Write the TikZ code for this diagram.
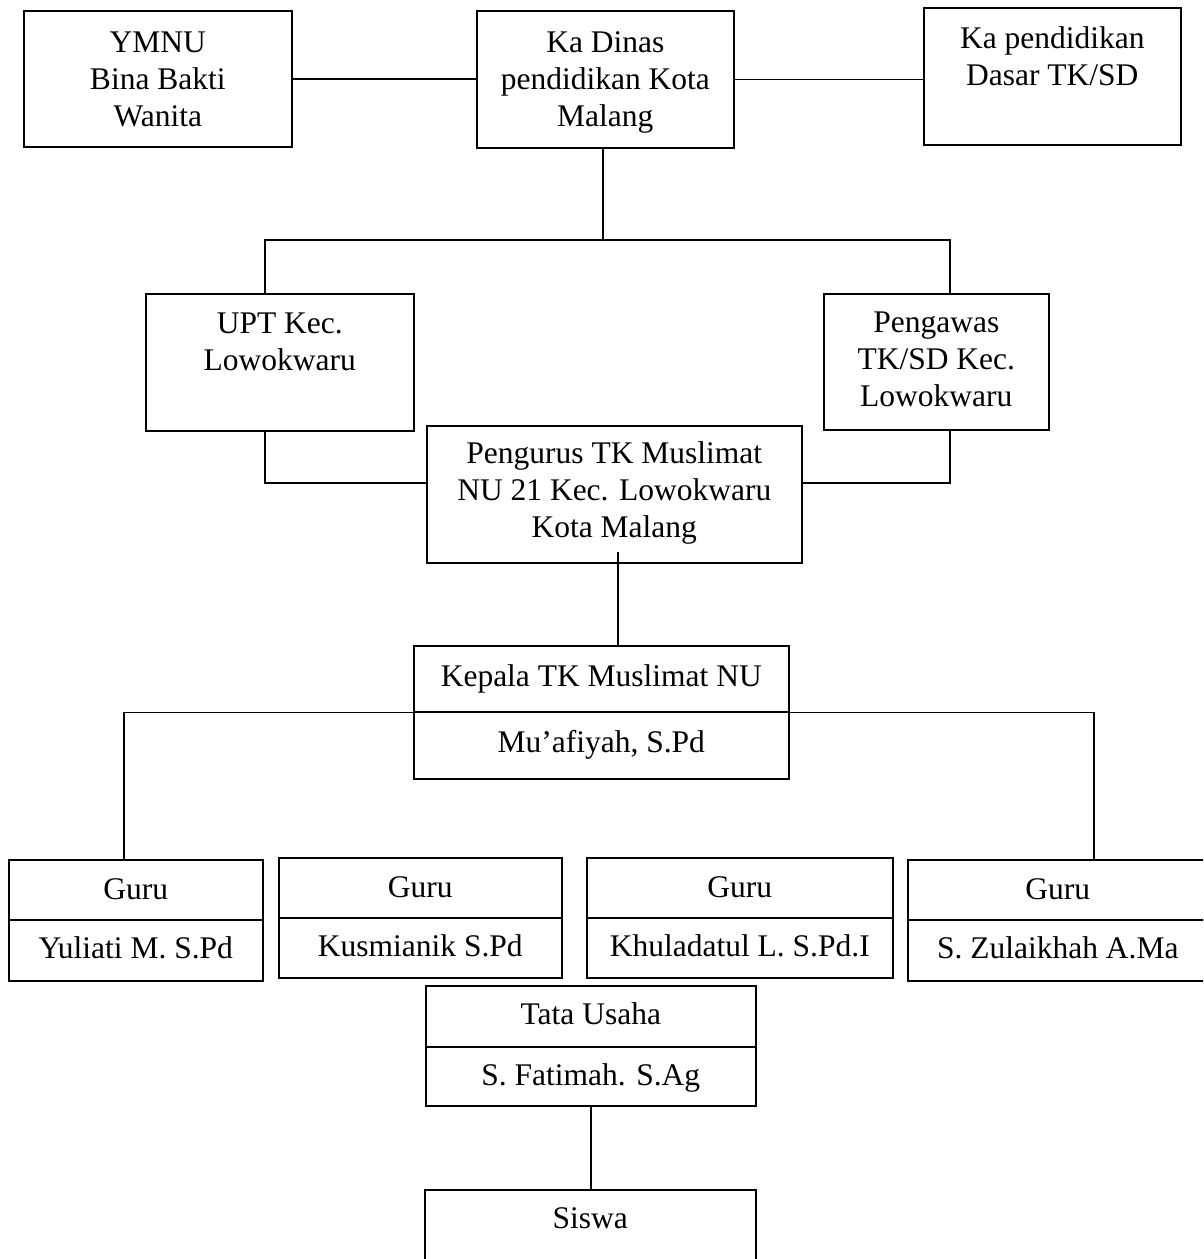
\documentclass[tikz,border=0pt]{standalone}
\usepackage{fontspec}
\setmainfont{Liberation Serif}
\tikzset{
  ob/.style={draw, line width=1.6pt, inner sep=0pt, anchor=north west,
    font=\fontsize{31.5}{37}\selectfont},
  conn/.style={line width=1.4pt}
}
% name, x, y, width, height, first-baseline, text
\newcommand{\obox}[7]{\node[ob] (#1) at (#2,#3) {\parbox[c][#5pt][t]{#4pt}{\centering\rule{0pt}{#6pt}#7}};}
\begin{document}
\begin{tikzpicture}[x=1pt,y=-1pt]
\useasboundingbox (0,0) rectangle (1203,1259);
\clip (0,0) rectangle (1203,1259);
\fill[white] (0,0) rectangle (1203,1259);
% top row
\obox{ymnu}{23}{10}{268}{136}{42}{YMNU\\Bina Bakti\\Wanita}
\obox{kd}{476}{10}{257}{137}{42}{Ka Dinas\\pendidikan Kota\\Malang}
\obox{kp}{923}{7}{257}{137}{41}{Ka pendidikan\\Dasar TK/SD}
% second row
\obox{upt}{145}{293}{268}{137}{40}{UPT Kec.\\Lowokwaru}
\obox{pgw}{823}{293}{225}{136}{39}{Pengawas\\TK/SD Kec.\\Lowokwaru}
\obox{peng}{426}{425}{375}{137}{38}{Pengurus TK Muslimat\\NU 21 Kec. Lowokwaru\\Kota Malang}
% kepala
\obox{kepT}{413}{645}{375}{66}{41}{Kepala TK Muslimat NU}
\obox{kepB}{413}{711}{375}{67}{41}{Mu’afiyah, S.Pd}
% guru row
\obox{gaT}{8}{859}{254}{60}{40}{Guru}
\obox{gaB}{8}{919}{254}{61}{39}{Yuliati M. S.Pd}
\obox{gbT}{278}{857}{283}{60}{40}{Guru}
\obox{gbB}{278}{917}{283}{60}{39}{Kusmianik S.Pd}
\obox{gcT}{586}{857}{306}{60}{40}{Guru}
\obox{gcB}{586}{917}{306}{60}{39}{Khuladatul L. S.Pd.I}
\obox{gdT}{907}{859}{300}{60}{40}{Guru}
\obox{gdB}{907}{919}{300}{61}{39}{S. Zulaikhah A.Ma}
% tata usaha and siswa
\obox{tuT}{425}{985}{330}{61}{39}{Tata Usaha}
\obox{tuB}{425}{1046}{330}{59}{39}{S. Fatimah. S.Ag}
\obox{siswa}{424}{1189}{331}{85}{39}{Siswa}
% connectors
\draw[conn] (ymnu.east) -- (ymnu.east -| kd.west);
\draw[conn] (kd.east) -- (kd.east -| kp.west);
\coordinate (bus) at (603,240);
\draw[conn] (bus |- kd.south) -- (bus);
\draw[conn] ([xshift=-15pt]upt.north) |- (bus) -| ([xshift=13.5pt]pgw.north);
\draw[conn] ([xshift=-15pt]upt.south) |- ([yshift=11.5pt]peng.west);
\draw[conn] ([xshift=13.5pt]pgw.south) |- ([yshift=11.5pt]peng.east);
\draw[conn] ([xshift=3.5pt,yshift=12pt]peng.south) -- ([xshift=3.5pt]peng.south |- kepT.north);
\draw[conn] ([xshift=-12pt]gaT.north) |- (kepT.south west);
\draw[conn] ([xshift=36pt]gdT.north) |- (kepT.south east);
\draw[conn] (tuB.south) -- (tuB.south |- siswa.north);
\end{tikzpicture}
\end{document}
